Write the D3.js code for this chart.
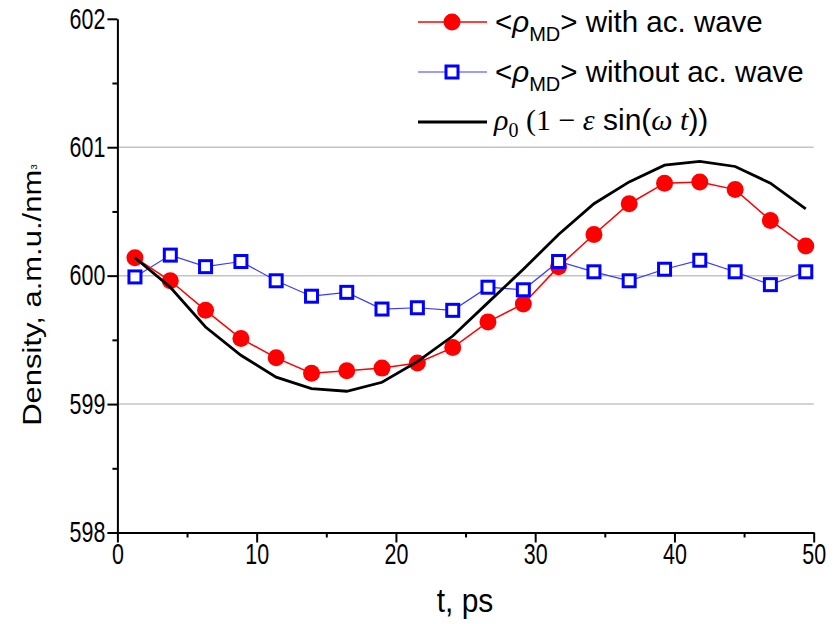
<!DOCTYPE html>
<html>
<head>
<meta charset="utf-8">
<script src="https://cdn.jsdelivr.net/npm/d3@7"></script>
<style>
  html, body { margin: 0; padding: 0; background: #fff; }
  svg { display: block; font-family: "Liberation Sans", Arial, sans-serif; }
</style>
</head>
<body>
<svg id="chart" width="839" height="624"></svg>
<script>
// time points, ps
var times = [1.26, 3.8, 6.33, 8.87, 11.4, 13.94, 16.47, 19.0, 21.54, 24.08,
             26.61, 29.15, 31.68, 34.22, 36.75, 39.29, 41.82, 44.36, 46.89, 49.43];
// <rho_MD> with acoustic wave
var withWave = [600.14, 599.96, 599.73, 599.51, 599.36, 599.24, 599.26, 599.28, 599.32, 599.44,
                599.64, 599.78, 600.07, 600.32, 600.56, 600.72, 600.73, 600.67, 600.43, 600.23];
// <rho_MD> without acoustic wave
var withoutWave = [599.99, 600.16, 600.07, 600.11, 599.96, 599.84, 599.87, 599.74, 599.75, 599.73,
                   599.91, 599.89, 600.11, 600.03, 599.96, 600.05, 600.12, 600.03, 599.93, 600.03];
// rho0 (1 - eps sin(w t))
var model = [600.14, 599.91, 599.60, 599.38, 599.21, 599.12, 599.10, 599.17, 599.33, 599.53,
             599.79, 600.05, 600.32, 600.56, 600.73, 600.86, 600.89, 600.85, 600.72, 600.52];

var xMajor = [0, 10, 20, 30, 40, 50];
var xMinor = [5, 15, 25, 35, 45];
var yMajor = [598, 599, 600, 601, 602];
var yMinor = [598.5, 599.5, 600.5, 601.5];
var yGrid = [599, 600, 601];

var svg = d3.select("#chart");
var x = d3.scaleLinear().domain([0, 50]).range([117.4, 813.7]);
var y = d3.scaleLinear().domain([598, 602]).range([532.5, 18.8]);
var squeeze = 0.74;

// grid
svg.append("g").selectAll("line").data(yGrid).enter().append("line")
  .attr("x1", x(0)).attr("x2", x(50))
  .attr("y1", function (d) { return y(d); }).attr("y2", function (d) { return y(d); })
  .style("stroke", "#c4c4c4").style("stroke-width", 1.5);

// minor ticks
svg.append("g").attr("transform", "translate(0," + y(598) + ")")
  .call(d3.axisBottom(x).tickValues(xMinor).tickSize(5).tickFormat("").tickSizeOuter(0))
  .call(function (g) { g.select(".domain").remove(); g.selectAll("line").style("stroke-width", 2); });
svg.append("g").attr("transform", "translate(" + x(0) + ",0)")
  .call(d3.axisLeft(y).tickValues(yMinor).tickSize(5).tickFormat("").tickSizeOuter(0))
  .call(function (g) { g.select(".domain").remove(); g.selectAll("line").style("stroke-width", 2); });

// major axes
var xAxis = svg.append("g").attr("transform", "translate(0," + y(598) + ")")
  .call(d3.axisBottom(x).tickValues(xMajor).tickSize(10).tickSizeOuter(0).tickPadding(1)
    .tickFormat(d3.format("d")));
var yAxis = svg.append("g").attr("transform", "translate(" + x(0) + ",0)")
  .call(d3.axisLeft(y).tickValues(yMajor).tickSize(10).tickSizeOuter(0)
    .tickFormat(d3.format("d")));

[xAxis, yAxis].forEach(function (g) {
  g.select(".domain").style("stroke-width", 2);
  g.selectAll(".tick line").style("stroke-width", 2);
  g.selectAll("text").style("font-size", "29px").style("fill", "#000")
    .style("font-family", "'Liberation Sans', Arial, sans-serif");
});
xAxis.selectAll("text").attr("transform", "scale(" + squeeze + ",1)").attr("dy", "0.72em");
yAxis.selectAll("text").attr("x", -12 / squeeze).attr("transform", "scale(" + squeeze + ",1)");

// axis titles
svg.append("text").attr("transform", "translate(465,612) scale(0.88,1)")
  .attr("text-anchor", "middle").style("font-size", "34px").text("t, ps");
var yt = svg.append("text").attr("transform", "translate(41,295) rotate(-90) scale(1,0.82)")
  .attr("text-anchor", "middle").style("font-size", "31px");
yt.append("tspan").text("Density, a.m.u./nm");
yt.append("tspan").attr("dy", "-0.55em").style("font-size", "10px").text("3");

// series
var pts = function (vals) { return vals.map(function (v, i) { return [times[i], v]; }); };
var line = d3.line().x(function (d) { return x(d[0]); }).y(function (d) { return y(d[1]); });

svg.append("path").datum(pts(withWave)).attr("d", line)
  .style("fill", "none").style("stroke", "#ff0000").style("stroke-width", 1.5);
svg.append("g").selectAll("circle").data(pts(withWave)).enter().append("circle")
  .attr("cx", function (d) { return x(d[0]); }).attr("cy", function (d) { return y(d[1]); })
  .attr("r", 8.5).style("fill", "#ff0000");

svg.append("path").datum(pts(withoutWave)).attr("d", line)
  .style("fill", "none").style("stroke", "#3a3aff").style("stroke-width", 1.2);
svg.append("g").selectAll("rect").data(pts(withoutWave)).enter().append("rect")
  .attr("x", function (d) { return x(d[0]) - 6; }).attr("y", function (d) { return y(d[1]) - 6; })
  .attr("width", 12).attr("height", 12)
  .style("fill", "#fff").style("stroke", "#0000ff").style("stroke-width", 3);

svg.append("path").datum(pts(model)).attr("d", line)
  .style("fill", "none").style("stroke", "#000").style("stroke-width", 2.8);

// legend
var lg = svg.append("g");
lg.append("line").attr("x1", 418).attr("x2", 487).attr("y1", 22).attr("y2", 22)
  .style("stroke", "#ff0000").style("stroke-width", 1.5);
lg.append("circle").attr("cx", 452).attr("cy", 22).attr("r", 8.5).style("fill", "#ff0000");
lg.append("line").attr("x1", 418).attr("x2", 487).attr("y1", 72).attr("y2", 72)
  .style("stroke", "#3a3aff").style("stroke-width", 1.2);
lg.append("rect").attr("x", 446).attr("y", 66).attr("width", 12).attr("height", 12)
  .style("fill", "#fff").style("stroke", "#0000ff").style("stroke-width", 3);
lg.append("line").attr("x1", 418).attr("x2", 487).attr("y1", 122).attr("y2", 122)
  .style("stroke", "#000").style("stroke-width", 2.8);

function rhoLabel(yy, rest) {
  var t = lg.append("text").attr("x", 495).attr("y", yy).style("font-size", "29.5px");
  t.append("tspan").text("<");
  t.append("tspan").style("font-style", "italic").text("\u03C1");
  t.append("tspan").attr("dy", 9).style("font-size", "20px").text("MD");
  t.append("tspan").attr("dy", -9).text("> " + rest);
}
rhoLabel(32, "with ac. wave");
rhoLabel(82, "without ac. wave");

var serif = "'Liberation Serif', 'Times New Roman', serif";
var ft = lg.append("text").attr("x", 494).attr("y", 130).style("font-size", "30px")
  .style("font-family", serif);
ft.append("tspan").style("font-style", "italic").text("\u03C1");
ft.append("tspan").attr("dy", 7).style("font-size", "20px").text("0");
ft.append("tspan").attr("dy", -7).text(" (1 \u2212 ");
ft.append("tspan").style("font-style", "italic").text("\u03B5");
ft.append("tspan").style("font-family", "'Liberation Sans', Arial, sans-serif").text(" sin(");
ft.append("tspan").style("font-style", "italic").text("\u03C9 t");
ft.append("tspan").style("font-family", "'Liberation Sans', Arial, sans-serif").text("))");
</script>
</body>
</html>
